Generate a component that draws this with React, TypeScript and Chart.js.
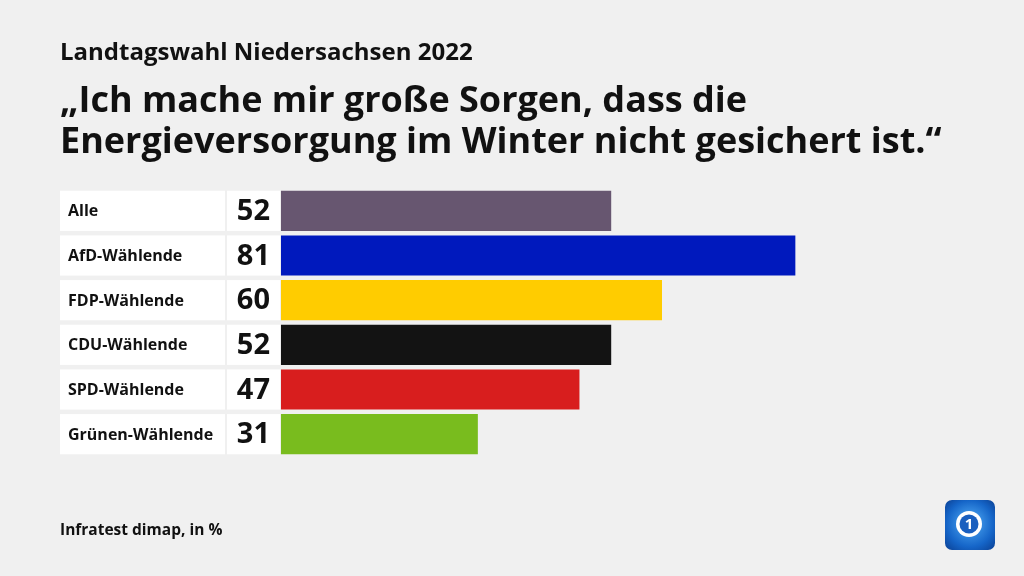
import React, { useEffect, useRef } from "react";
import { Chart, registerables } from "chart.js";

Chart.register(...registerables);

const categories = ["Alle", "AfD-Wählende", "FDP-Wählende", "CDU-Wählende", "SPD-Wählende", "Grünen-Wählende"];
const values = [52, 81, 60, 52, 47, 31];
const barColors = ["#675670", "#0019bd", "#ffcc00", "#131313", "#d81e1e", "#79bc1e"];
const subtitleText = "Landtagswahl Niedersachsen 2022";
const titleLines = ["„Ich mache mir große Sorgen, dass die", "Energieversorgung im Winter nicht gesichert ist.“"];
const sourceText = "Infratest dimap, in %";

const FONT = "'Open Sans', 'Noto Sans', sans-serif";

const overlayPlugin = {
  id: "overlay",
  beforeDatasetsDraw(chart: any) {
    const ctx = chart.ctx;
    const meta = chart.getDatasetMeta(0);
    ctx.save();
    meta.data.forEach((bar: any, i: number) => {
      const h = bar.height;
      const top = bar.y - h / 2;
      ctx.fillStyle = "#ffffff";
      ctx.fillRect(60, top, 165, h);
      ctx.fillRect(227, top, 53, h);
      ctx.fillStyle = "#111111";
      ctx.textBaseline = "middle";
      ctx.textAlign = "left";
      ctx.font = `bold 16px ${FONT}`;
      ctx.fillText(categories[i], 68, bar.y + 1);
      ctx.textAlign = "right";
      ctx.font = `bold 29px ${FONT}`;
      ctx.fillText(String(values[i]), 270, bar.y + 1);
    });
    ctx.restore();
  },
  afterDraw(chart: any) {
    const ctx = chart.ctx;
    ctx.save();
    ctx.fillStyle = "#111111";
    ctx.textAlign = "left";
    ctx.textBaseline = "alphabetic";
    ctx.font = `bold 24px ${FONT}`;
    ctx.fillText(subtitleText, 60, 60);
    ctx.font = `bold 36px ${FONT}`;
    ctx.fillText(titleLines[0], 60, 112);
    ctx.fillText(titleLines[1], 60, 153);
    ctx.font = `bold 15.5px ${FONT}`;
    ctx.fillText(sourceText, 60, 535);
    // logo
    const lx = 945, ly = 500, ls = 50;
    const g = ctx.createRadialGradient(lx + 25, ly + 22, 4, lx + 25, ly + 25, 36);
    g.addColorStop(0, "#4aa3f0");
    g.addColorStop(0.6, "#1565c8");
    g.addColorStop(1, "#0a3d8f");
    ctx.fillStyle = g;
    ctx.beginPath();
    ctx.roundRect(lx, ly, ls, ls, 7);
    ctx.fill();
    ctx.fillStyle = "#ffffff";
    ctx.beginPath();
    ctx.arc(lx + 24, ly + 24, 13, 0, Math.PI * 2);
    ctx.fill();
    ctx.fillStyle = "#1a5fbf";
    ctx.beginPath();
    ctx.arc(lx + 24, ly + 24, 9.5, 0, Math.PI * 2);
    ctx.fill();
    ctx.fillStyle = "#ffffff";
    ctx.font = `bold 15px ${FONT}`;
    ctx.textAlign = "center";
    ctx.textBaseline = "middle";
    ctx.fillText("1", lx + 24, ly + 25);
    ctx.restore();
  },
};

const bgPlugin = {
  id: "bg",
  beforeDraw(chart: any) {
    const ctx = chart.ctx;
    ctx.save();
    ctx.fillStyle = "#f0f0f0";
    ctx.fillRect(0, 0, chart.width, chart.height);
    ctx.restore();
  },
};

export default function App() {
  const ref = useRef<HTMLCanvasElement>(null);
  useEffect(() => {
    document.body.style.margin = "0";
    const chart = new Chart(ref.current!, {
      type: "bar",
      data: {
        labels: categories,
        datasets: [
          {
            data: values,
            backgroundColor: barColors,
            borderWidth: 0,
            barPercentage: 0.9,
            categoryPercentage: 1,
          },
        ],
      },
      options: {
        indexAxis: "y",
        animation: false,
        responsive: false,
        maintainAspectRatio: false,
        layout: { padding: { left: 281, right: 108, top: 188.5, bottom: 119.5 } },
        scales: {
          x: { display: false, min: 0, max: 100 },
          y: { display: false },
        },
        plugins: { legend: { display: false }, tooltip: { enabled: false }, title: { display: false } },
      },
      plugins: [bgPlugin, overlayPlugin],
    });
    return () => chart.destroy();
  }, []);
  return (
    <div style={{ width: 1024, height: 576, background: "#f0f0f0" }}>
      <canvas ref={ref} width={1024} height={576} style={{ display: "block" }} />
    </div>
  );
}
